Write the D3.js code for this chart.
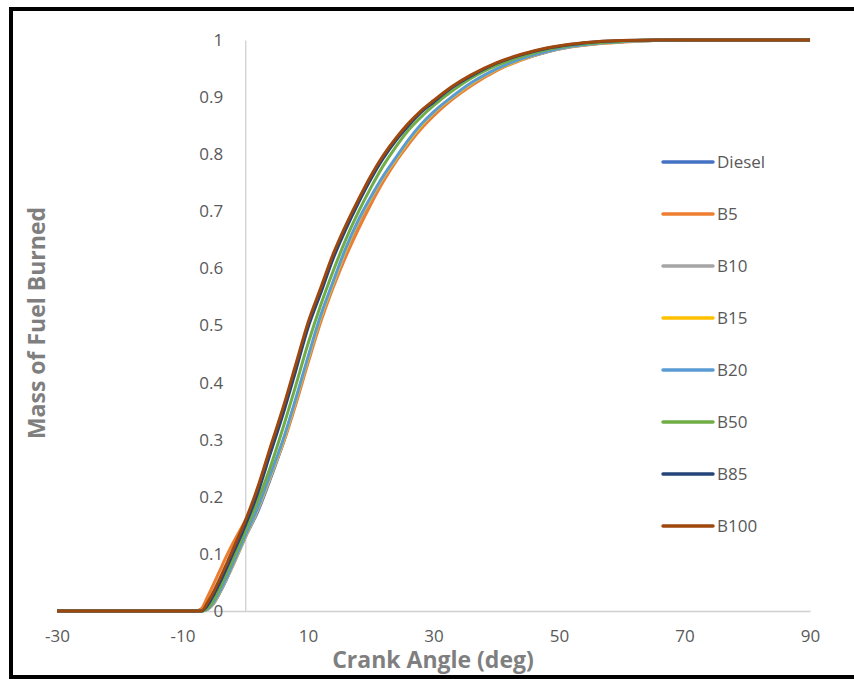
<!DOCTYPE html>
<html>
<head>
<meta charset="utf-8">
<script src="https://cdn.jsdelivr.net/npm/d3@7"></script>
<style>
    body { margin: 0; background: #fff; }
    svg text { font-family: "Open Sans", sans-serif; }
</style>
</head>
<body>
<div id="chart"></div>
<script>
// Crank angle (deg) shared by every series
const crankAngle = [-30, -8, -7, -6, -5, -4, -3, -2, -1, 0, 2, 4, 6, 8, 10, 12, 14, 16, 18, 20,
                    22, 24, 26, 28, 30, 33, 36, 40, 44, 48, 52, 56, 60, 65, 70, 90];

// Mass fraction burned
const diesel = [0, 0, 0, 0.003, 0.014, 0.033, 0.055, 0.079, 0.104, 0.129, 0.174, 0.231, 0.293, 0.363, 0.438, 0.510, 0.571, 0.629, 0.679, 0.720,
                0.758, 0.791, 0.822, 0.849, 0.872, 0.899, 0.923, 0.948, 0.966, 0.979, 0.989, 0.994, 0.997, 0.999, 1, 1];
const b5 = [0, 0, 0.004, 0.025, 0.048, 0.072, 0.096, 0.118, 0.138, 0.158, 0.196, 0.241, 0.292, 0.360, 0.434, 0.505, 0.566, 0.620, 0.668, 0.712,
            0.752, 0.787, 0.817, 0.844, 0.867, 0.896, 0.920, 0.946, 0.965, 0.979, 0.988, 0.993, 0.996, 0.999, 1, 1];
const b10 = [0, 0, 0, 0.003, 0.014, 0.034, 0.056, 0.079, 0.104, 0.129, 0.177, 0.234, 0.294, 0.365, 0.440, 0.512, 0.572, 0.630, 0.680, 0.721,
             0.759, 0.791, 0.822, 0.849, 0.872, 0.899, 0.923, 0.948, 0.966, 0.979, 0.988, 0.994, 0.997, 0.999, 1, 1];
const b15 = [0, 0, 0, 0.004, 0.015, 0.035, 0.057, 0.080, 0.105, 0.130, 0.179, 0.236, 0.296, 0.367, 0.442, 0.514, 0.574, 0.632, 0.682, 0.723,
             0.760, 0.792, 0.823, 0.850, 0.873, 0.900, 0.924, 0.948, 0.966, 0.980, 0.989, 0.994, 0.997, 0.999, 1, 1];
const b20 = [0, 0, 0, 0.004, 0.016, 0.036, 0.058, 0.082, 0.107, 0.132, 0.181, 0.239, 0.299, 0.370, 0.445, 0.517, 0.577, 0.635, 0.684, 0.725,
             0.762, 0.794, 0.825, 0.852, 0.874, 0.901, 0.925, 0.949, 0.967, 0.980, 0.989, 0.994, 0.997, 0.999, 1, 1];
const b50 = [0, 0, 0, 0.005, 0.020, 0.042, 0.066, 0.090, 0.115, 0.140, 0.193, 0.252, 0.320, 0.393, 0.468, 0.535, 0.595, 0.650, 0.698, 0.741,
             0.780, 0.813, 0.842, 0.865, 0.885, 0.911, 0.933, 0.955, 0.971, 0.983, 0.991, 0.995, 0.998, 1, 1, 1];
const b85 = [0, 0, 0, 0.010, 0.029, 0.051, 0.075, 0.100, 0.124, 0.150, 0.207, 0.276, 0.344, 0.419, 0.496, 0.556, 0.617, 0.668, 0.714, 0.756,
             0.793, 0.824, 0.850, 0.873, 0.891, 0.917, 0.937, 0.959, 0.974, 0.985, 0.992, 0.997, 0.999, 1, 1, 1];
const b100 = [0, 0, 0, 0.015, 0.035, 0.058, 0.082, 0.107, 0.132, 0.158, 0.217, 0.287, 0.355, 0.430, 0.505, 0.565, 0.625, 0.675, 0.720, 0.762,
              0.798, 0.828, 0.854, 0.876, 0.894, 0.919, 0.939, 0.960, 0.975, 0.986, 0.993, 0.997, 0.999, 1, 1, 1];

const seriesNames = ['Diesel', 'B5', 'B10', 'B15', 'B20', 'B50', 'B85', 'B100'];
const seriesValues = [diesel, b5, b10, b15, b20, b50, b85, b100];
const seriesColors = ['#4472C4', '#ED7D31', '#A5A5A5', '#FFC000', '#5B9BD5', '#70AD47', '#264478', '#9E480E'];

const xTicks = [-30, -10, 10, 30, 50, 70, 90];
const yTicks = [0, 0.1, 0.2, 0.3, 0.4, 0.5, 0.6, 0.7, 0.8, 0.9, 1];

// Canvas and scales
const svgW = 854, svgH = 679;
const xScale = d3.scaleLinear().domain([-30, 90]).range([57, 810]);
const yScale = d3.scaleLinear().domain([0, 1]).range([611, 40]);

const svg = d3.select('#chart')
              .append('svg')
              .attr('width', svgW)
              .attr('height', svgH);

// Black frame around the chart (right side runs off the picture)
svg.append('rect')
   .attr('x', 11)
   .attr('y', 9)
   .attr('width', 900)
   .attr('height', 668)
   .attr('fill', 'none')
   .attr('stroke', '#000')
   .attr('stroke-width', 4);

// Axes: x axis at y = 0, y axis at crank angle 0
const xAxis = d3.axisBottom(xScale).tickValues(xTicks).tickSize(0).tickSizeOuter(0).tickPadding(19)
                .tickFormat(d => String(d));
const yAxis = d3.axisLeft(yScale).tickValues(yTicks).tickSize(0).tickSizeOuter(0).tickPadding(22)
                .tickFormat(d => String(+d.toFixed(1)));

const gx = svg.append('g')
              .attr('transform', `translate(0, ${yScale(0)})`)
              .call(xAxis);
const gy = svg.append('g')
              .attr('transform', `translate(${xScale(0)}, 0)`)
              .call(yAxis);

[gx, gy].forEach(g => {
    g.select('.domain').attr('stroke', '#d0d0d0').attr('stroke-width', 1.3);
    g.selectAll('text')
     .attr('fill', '#595959')
     .style('font-size', '17px');
});

// Lines, first series at the bottom
const line = d3.line()
               .x(d => xScale(d[0]))
               .y(d => yScale(d[1]))
               .curve(d3.curveMonotoneX);

svg.append('g')
   .selectAll('path')
   .data(seriesValues).enter()
   .append('path')
   .attr('d', vals => line(vals.map((v, i) => [crankAngle[i], v])))
   .attr('fill', 'none')
   .attr('stroke', (d, i) => seriesColors[i])
   .attr('stroke-width', 3)
   .attr('stroke-linejoin', 'round');

// Legend
const legend = svg.append('g')
                  .selectAll('g')
                  .data(seriesNames).enter()
                  .append('g')
                  .attr('transform', (d, i) => `translate(663, ${162 + i * 52})`);
legend.append('line')
      .attr('x1', 0).attr('x2', 50)
      .attr('stroke', (d, i) => seriesColors[i])
      .attr('stroke-width', 3.5)
      .attr('stroke-linecap', 'round');
legend.append('text')
      .attr('x', 54)
      .attr('dy', '0.35em')
      .attr('fill', '#595959')
      .style('font-size', '17px')
      .text(d => d);

// Axis titles
svg.append('text')
   .attr('x', 433)
   .attr('y', 668)
   .attr('text-anchor', 'middle')
   .attr('fill', '#7f7f7f')
   .style('font-size', '23px')
   .style('font-weight', 'bold')
   .text('Crank Angle (deg)');
svg.append('text')
   .attr('transform', 'translate(45, 323) rotate(-90)')
   .attr('text-anchor', 'middle')
   .attr('fill', '#7f7f7f')
   .style('font-size', '23px')
   .style('font-weight', 'bold')
   .text('Mass of Fuel Burned');
</script>
</body>
</html>
